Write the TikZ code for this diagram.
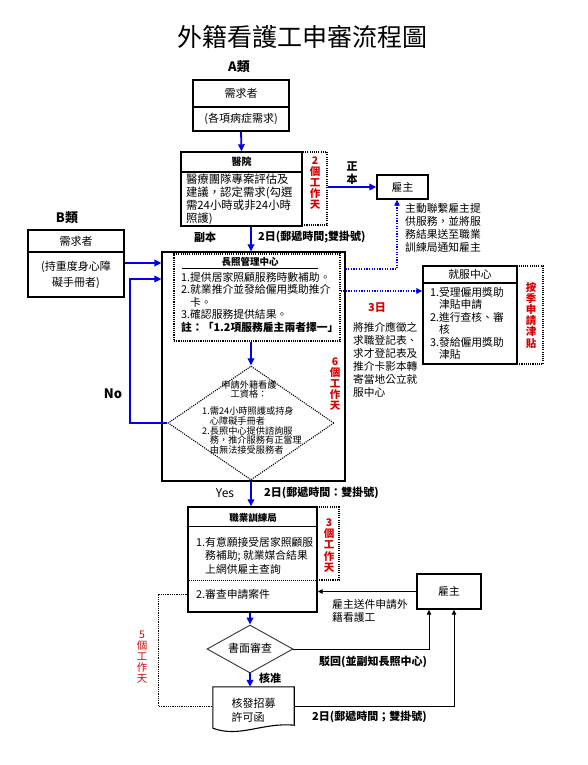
\documentclass[tikz,border=0pt]{standalone}
\usepackage{fontspec}
\setmainfont{Noto Sans CJK TC}
\usepackage{tikz}
\usetikzlibrary{arrows.meta, shapes.geometric, positioning}
\definecolor{flowblue}{RGB}{0,0,235}
\definecolor{dayred}{RGB}{215,0,0}
\newcommand{\pxfont}[2]{\fontsize{#1}{#2}\selectfont}

\begin{document}
\begin{tikzpicture}[x=1pt, y=-1pt,
    box/.style={draw, line width=1.4pt, inner sep=0pt},
    dotbox/.style={draw, line width=1.1pt, dash pattern=on 1.1pt off 1.1pt, inner sep=0pt},
    txt/.style={inner sep=0pt, align=left, font=\pxfont{10.8}{12.5}},
    days/.style={inner sep=0pt, align=center, text=dayred, font=\bfseries\pxfont{10.5}{11.2}},
    lbl/.style={inner sep=0pt, font=\bfseries\pxfont{11}{13}},
    arr/.style={-{Triangle[length=7pt,width=6.5pt]}, flowblue, line width=1.8pt},
    dotarr/.style={-{Triangle[length=6pt,width=5.5pt]}, flowblue, line width=1.3pt, dash pattern=on 1.3pt off 1.3pt},
    thinarr/.style={-{Triangle[length=5pt,width=4.5pt]}, line width=0.9pt}
  ]
  \useasboundingbox (0,0) rectangle (588,765);
  \node[inner sep=0pt, font=\pxfont{25}{28}] (title) at (302,37) {外籍看護工申審流程圖};
  \node[lbl, font=\bfseries\pxfont{13}{15}] (acls) at (239,67) {A類};
  \node[box, minimum width=96pt, minimum height=27pt, font=\pxfont{11}{13}] (areq) at (241,93.5) {需求者};
  \node[box, minimum width=96pt, minimum height=24pt, font=\pxfont{11}{13}] (areqb) at (241,119) {(各項病症需求)};

  \node[box, minimum width=121pt, minimum height=20pt, font=\bfseries\pxfont{10}{12}] (hosp) at (241.5,162) {醫院};
  \node[box, txt, minimum width=121pt, minimum height=54pt, text width=111pt, font=\pxfont{11.4}{13}] (hospb) at (241.5,199)
  {醫療團隊專案評估及\\建議，認定需求(勾選\\需24小時或非24小時\\照護)};
  \node[dotbox, minimum width=25pt, minimum height=73pt] (hdbox) at (314.5,188.5) {};
  \node[days] (hdays) at (315,183) {2\\個\\工\\作\\天};
  \draw[arr] (areqb.south) -- (hosp.north);

  \node[box, minimum width=51pt, minimum height=24pt, font=\pxfont{10.8}{12}] (emp1) at (402.5,187) {雇主};
  \draw[arr] (hdbox.east |- emp1.west) -- (emp1.west);
  \node[lbl, align=center] (orig) at (352,173.5) {正\\本};
  \node[txt, anchor=west, font=\pxfont{10.8}{13}] (empnote) at (405,227.5)
  {主動聯繫雇主提\\供服務，並將服\\務結果送至職業\\訓練局通知雇主};

  \node[lbl, font=\bfseries\pxfont{13}{15}] (bcls) at (67,218) {B類};
  \node[box, minimum width=96pt, minimum height=22pt, font=\pxfont{11}{13}] (breq) at (76,241) {需求者};
  \node[box, minimum width=96pt, minimum height=45pt, align=center, font=\pxfont{11}{16}] (breqb) at (76,274.5)
  {(持重度身心障\\礙手冊者)};

  \node[box, line width=1.1pt, minimum width=183pt, minimum height=229pt] (apply) at (253.5,366.5) {};
  \node[dotbox, minimum width=166pt, minimum height=87pt] (mgr) at (257,297.5) {};
  \node[inner sep=0pt, font=\bfseries\pxfont{9.5}{11}] (mgrt) at (250,262) {長照管理中心};
  \draw[line width=0.9pt] (182,268) -- (318,268);
  \node[txt, anchor=west] (mgrb) at (181,302)
  {1.提供居家照顧服務時數補助。\\2.就業推介並發給僱用獎助推介\\\phantom{2.}卡。\\3.確認服務提供結果。\\\textbf{註：「1.2項服務雇主兩者擇一」}};
  \draw[arr] (hospb.south -| 251,0) -- (251,0 |- apply.north);
  \node[lbl] (copy) at (205,237) {副本};
  \node[lbl, anchor=west] (post1) at (258,237) {2日(郵遞時間;雙掛號)};
  \coordinate (bout) at ([yshift=11.5pt]breqb.east);
  \draw[arr] (bout) -- (bout -| apply.west);

  \node[diamond, draw, line width=1.1pt, dash pattern=on 1.1pt off 1.1pt, minimum width=166pt, minimum height=114pt, inner sep=0pt] (elig) at (251,423) {};
  \node[inner sep=0pt, align=center, font=\pxfont{9.2}{9.8}] (eligt) at (249,389.5) {申請外籍看護\\工資格：};
  \node[inner sep=0pt, align=left, anchor=west, font=\pxfont{9.2}{9.8}] (eligl) at (202,430.5)
  {1.需24小時照護或持身\\\phantom{1.}心障礙手冊者\\2.長照中心提供諮詢服\\\phantom{2.}務，推介服務有正當理\\\phantom{2.}由無法接受服務者};
  \draw[arr] (mgr.south -| elig.north) -- (elig.north);
  \node[inner sep=0pt, font=\bfseries\pxfont{13}{15}] (no) at (113,394) {No};
  \coordinate (noturn) at (130,279);
  \draw[arr, line width=1.2pt] (elig.west) -| (noturn) -- (noturn -| apply.west);
  \node[days] (adays) at (335,384) {6\\個\\工\\作\\天};

  \coordinate (mgrout) at ([yshift=28.5pt]mgr.east);
  \draw[dotarr, line width=1.1pt] (mgrout -| apply.east) -| ([xshift=-5.5pt]emp1.south);

  \node[box, minimum width=94pt, minimum height=17pt, font=\pxfont{10.8}{12}] (job) at (470,274.5) {就服中心};
  \node[box, txt, minimum width=94pt, minimum height=81pt, text width=80pt] (jobb) at (470,323.5)
  {1.受理僱用獎助\\\phantom{1.}津貼申請\\2.進行查核、審\\\phantom{2.}核\\3.發給僱用獎助\\\phantom{3.}津貼};
  \node[dotbox, minimum width=26pt, minimum height=98pt] (jdbox) at (530,315) {};
  \node[days] (jdays) at (531,315) {按\\季\\申\\請\\津\\貼};
  \coordinate (jobin) at ([yshift=32.5pt]jobb.west);
  \draw[dotarr, line width=2pt] (jobin -| mgr.east) -- (jobin);
  \node[days, font=\bfseries\pxfont{11}{13}] (jdays3) at (377,308) {3日};
  \node[txt, anchor=west, font=\pxfont{10.7}{13}] (jobnote) at (353,359.5)
  {將推介應徵之\\求職登記表、\\求才登記表及\\推介卡影本轉\\寄當地公立就\\服中心};

  \node[box, minimum width=129pt, minimum height=105pt] (btr) at (252.5,559.5) {};
  \draw[arr] (elig.south) -- (elig.south |- btr.north);
  \node[inner sep=0pt, font=\pxfont{12}{14}] (yes) at (225,493) {Yes};
  \node[lbl, anchor=west] (post2) at (264,493) {2日(郵遞時間：雙掛號)};
  \draw[line width=1pt] (btr.west |- 0,526) -- (btr.east |- 0,526);
  \draw[line width=1pt, dash pattern=on 1pt off 1pt] (btr.west |- 0,580) -- (btr.east |- 0,580);
  \node[inner sep=0pt, font=\bfseries\pxfont{9.5}{11}] (btrt) at (253,517.5) {職業訓練局};
  \node[txt, anchor=west, font=\pxfont{10.8}{13.5}] (btrb) at (196,555.5)
  {1.有意願接受居家照顧服\\\phantom{1.}務補助; 就業媒合結果\\\phantom{1.}上網供雇主查詢};
  \node[txt, anchor=west] (btrc) at (196,594) {2.審查申請案件};
  \node[dotbox, minimum width=22pt, minimum height=73pt] (bdbox) at (328,543.5) {};
  \node[days] (bdays) at (329,545.5) {3\\個\\工\\作\\天};

  \node[box, minimum width=64pt, minimum height=35pt, font=\pxfont{10.8}{12}] (emp2) at (449,591.5) {雇主};
  \draw[thinarr] (emp2.west) -- (emp2.west -| btr.east);
  \node[txt, anchor=west, font=\pxfont{10.8}{13}] (empsend) at (332,610.5) {雇主送件申請外\\籍看護工};

  \node[diamond, draw=black!80, line width=0.9pt, minimum width=86pt, minimum height=48pt, inner sep=0pt] (review) at (250,649) {};
  \node[inner sep=0pt, font=\pxfont{11}{13}] (reviewt) at (250,648) {書面審查};
  \draw[arr] (btr.south -| review.north) -- (review.north);
  \node[inner sep=0pt, minimum width=81pt, minimum height=38pt] (permit) at (253.5,706) {};
  \node[inner sep=0pt, align=left, font=\pxfont{11}{14}] (permitt) at (253.5,710) {核發招募\\許可函};
  \draw[line width=1.1pt] ([yshift=-3pt]permit.south west) -- (permit.north west) -- (permit.north east) -- (permit.south east)
  .. controls +(-32,-3) and +(27,10) .. ([yshift=-3pt]permit.south west);
  \draw[arr] (review.south) -- (review.south |- permit.north);
  \node[lbl] (ok) at (270,678) {核准};
  \coordinate (brk) at (158,706);
  \draw[line width=0.9pt, dash pattern=on 0.9pt off 0.9pt] (btr.west |- btrc.west) -| (brk) -- (brk -| permit.west);
  \node[days, font=\pxfont{10.5}{11}] (pdays) at (142,657) {5\\個\\工\\作\\天};

  \draw[thinarr] (review.east) -| ([xshift=-20pt]emp2.south);
  \node[lbl, anchor=west] (reject) at (319,662) {駁回(並副知長照中心)};
  \draw[thinarr] (permit.east) -| ([xshift=5pt]emp2.south);
  \node[lbl, anchor=west] (post3) at (312,717) {2日(郵遞時間；雙掛號)};
\end{tikzpicture}
\end{document}
